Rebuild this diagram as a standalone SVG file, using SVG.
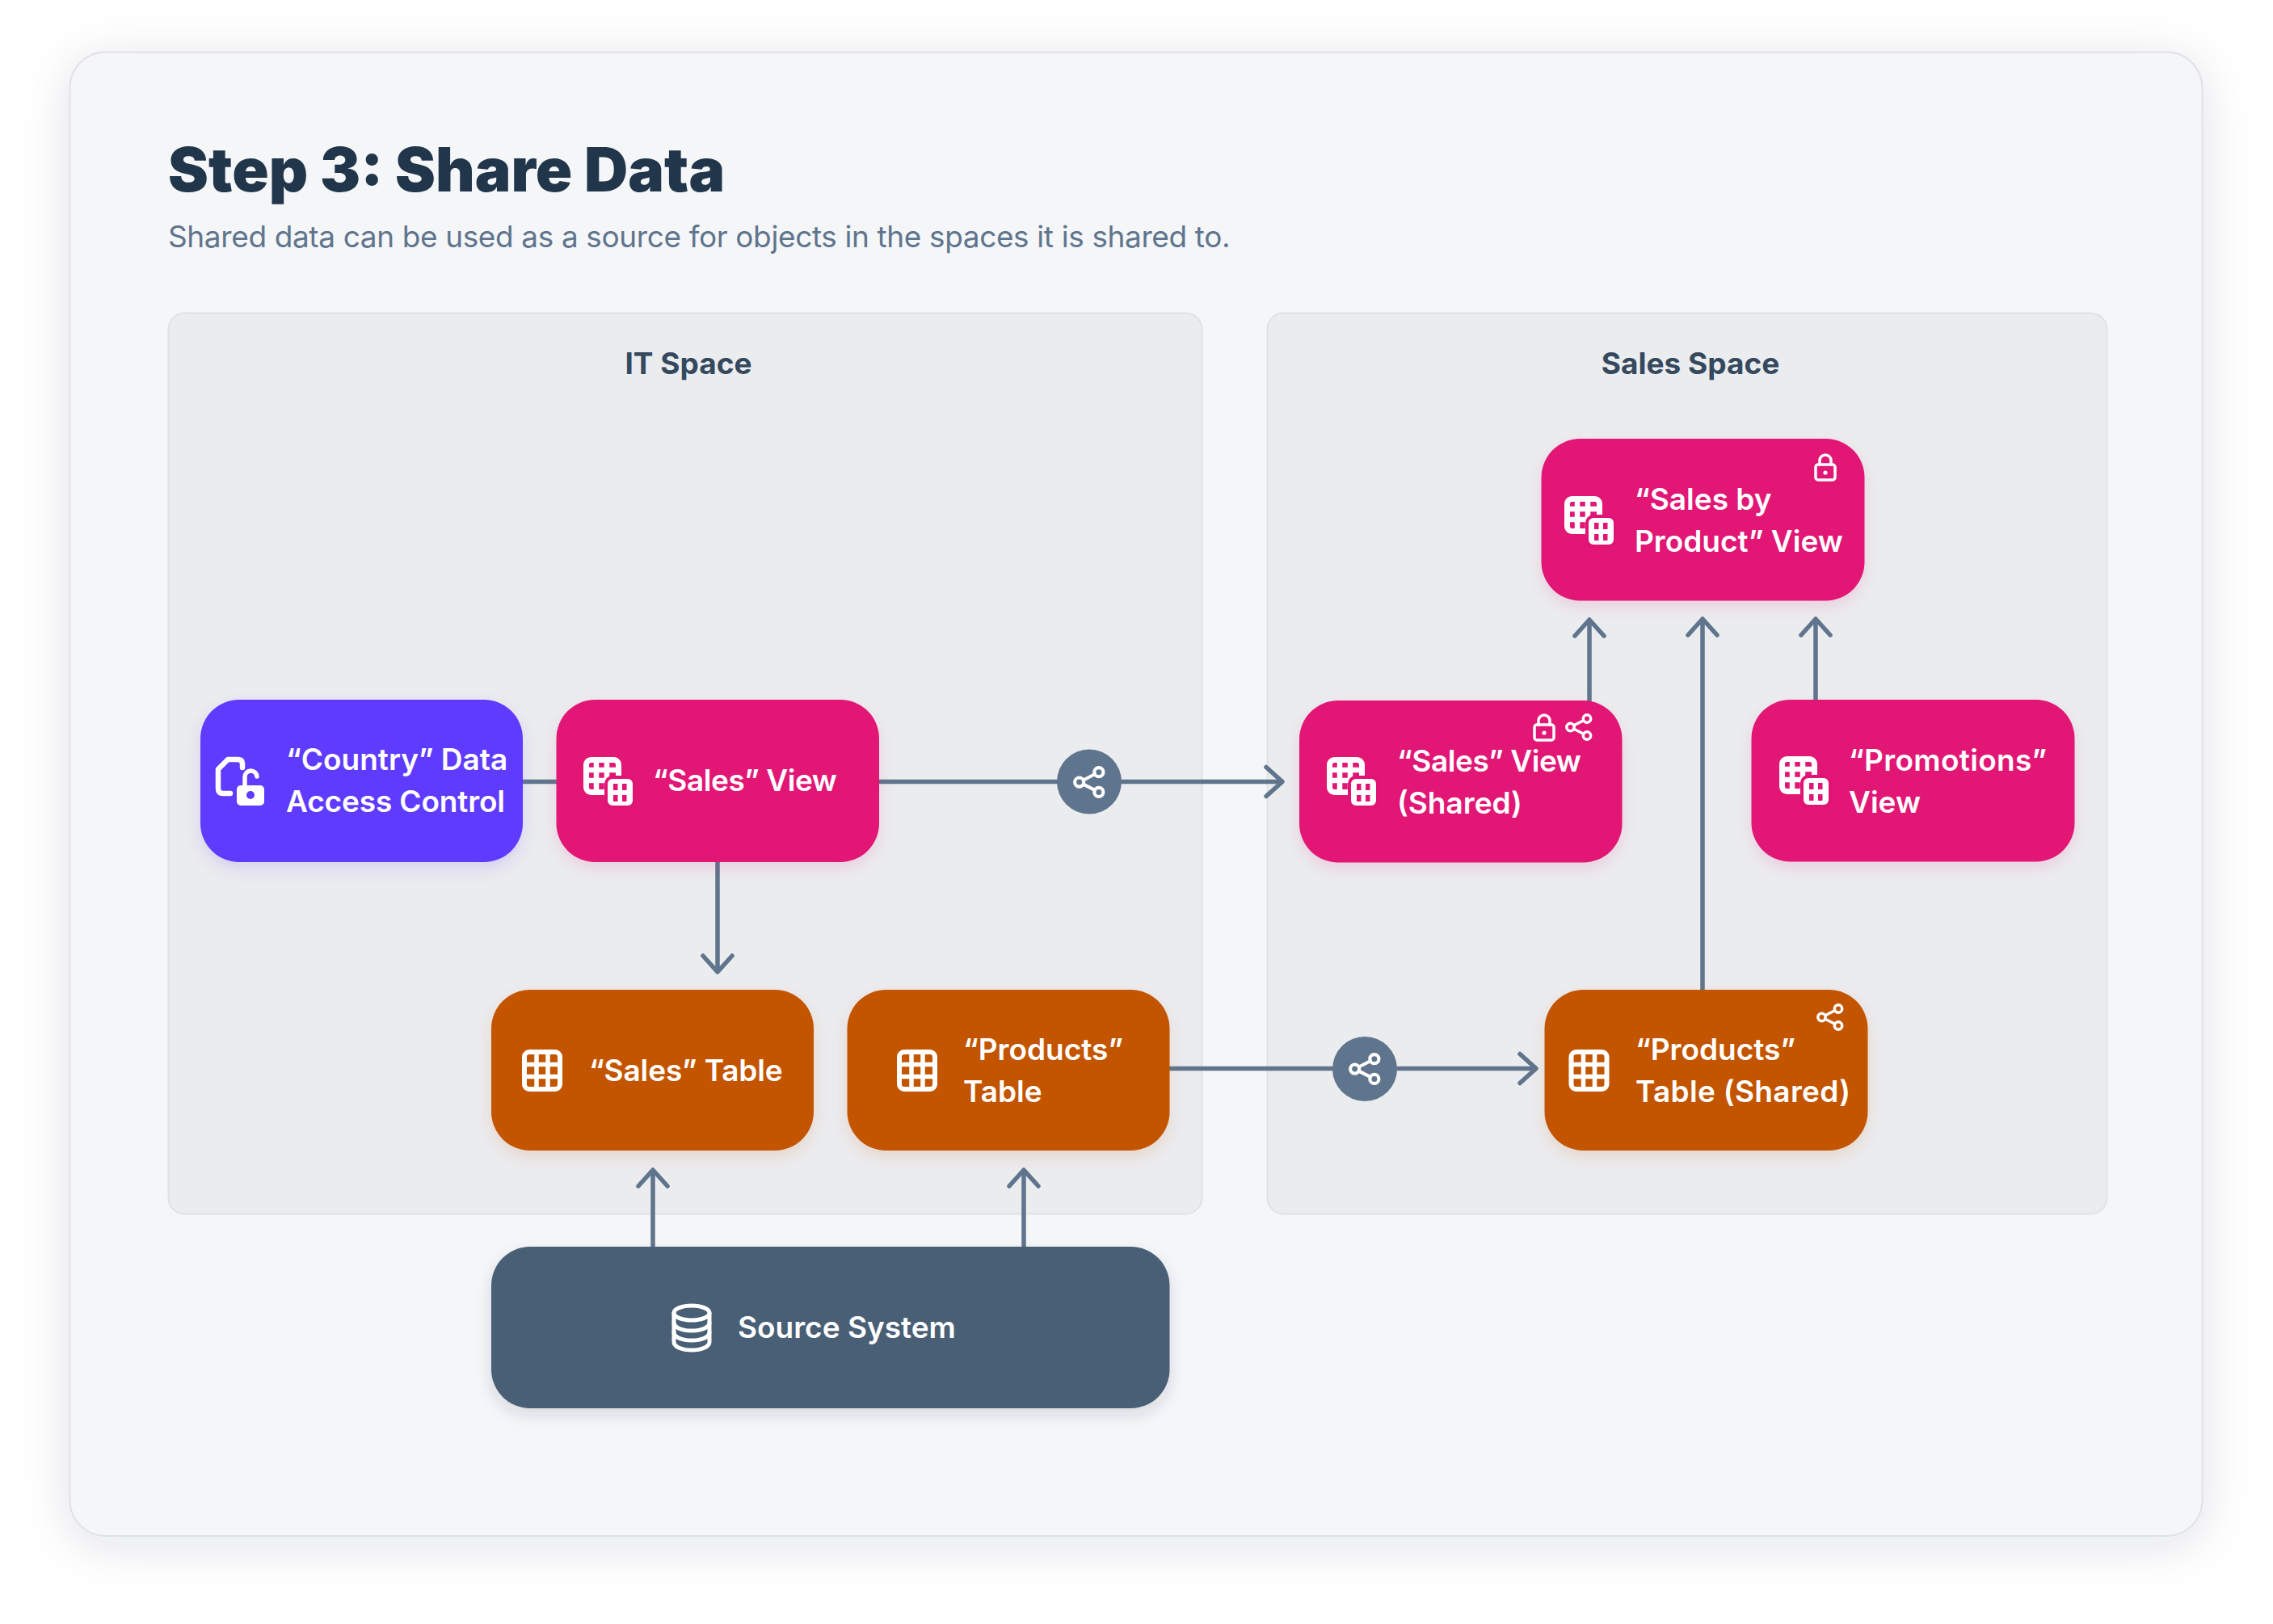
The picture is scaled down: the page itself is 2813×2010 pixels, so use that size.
<svg xmlns="http://www.w3.org/2000/svg" xmlns:xlink="http://www.w3.org/1999/xlink" width="2813" height="2010" viewBox="0 0 2813 2010">
<style>
text{font-family:"Inter","Noto Sans","Liberation Sans",sans-serif}
.t{font-size:37px;font-weight:600;fill:#fff}
.tn{letter-spacing:-.45px}
.tw{letter-spacing:.32px}
.title{font-size:75px;font-weight:900;fill:#22364B}
.sub{font-size:37px;font-weight:400;fill:#5F758D;letter-spacing:-.38px}
.sp{font-size:37px;font-weight:700;fill:#34485E;text-anchor:middle}
.c{fill:none;stroke:#5F758D;stroke-width:5.5}
.ic{fill:none;stroke:#fff;stroke-linecap:round;stroke-linejoin:round}
</style>
<defs>
<filter id="card" x="-10%" y="-10%" width="120%" height="120%"><feDropShadow dx="0" dy="10" stdDeviation="30" flood-color="#22364B" flood-opacity=".12"/></filter>
<filter id="sPink" x="-20%" y="-20%" width="140%" height="150%"><feDropShadow dx="0" dy="8" stdDeviation="9" flood-color="#E11475" flood-opacity=".12"/></filter>
<filter id="sOrange" x="-20%" y="-20%" width="140%" height="150%"><feDropShadow dx="0" dy="8" stdDeviation="9" flood-color="#C35500" flood-opacity=".14"/></filter>
<filter id="sPurple" x="-20%" y="-20%" width="140%" height="150%"><feDropShadow dx="0" dy="8" stdDeviation="9" flood-color="#5F3BFF" flood-opacity=".16"/></filter>
<filter id="sSlate" x="-20%" y="-20%" width="140%" height="150%"><feDropShadow dx="0" dy="8" stdDeviation="9" flood-color="#22364B" flood-opacity=".14"/></filter>
<marker id="arrow" markerUnits="userSpaceOnUse" viewBox="-26 -24 32 48" markerWidth="32" markerHeight="48" refX="0" refY="0" orient="auto">
<path d="M-20,-18 L0,0 L-20,18" fill="none" stroke="#5F758D" stroke-width="5.5" stroke-linecap="round" stroke-linejoin="round"/>
</marker>
<g id="view">
<rect x="3.500" y="3.500" width="40" height="40" rx="6" fill="none" stroke="#fff" stroke-width="7"/>
<path d="M3,16H44M3,29H44M16,3V44M29,3V44" stroke="#fff" stroke-width="6.500" fill="none"/>
<rect x="28" y="25" width="35" height="37" rx="8" fill="#fff" stroke="#E11475" stroke-width="4"/>
<rect x="37" y="33" width="5.500" height="8" fill="#E11475"/><rect x="48" y="33" width="5.500" height="8" fill="#E11475"/>
<rect x="37" y="47" width="5.500" height="8" fill="#E11475"/><rect x="48" y="47" width="5.500" height="8" fill="#E11475"/>
</g>
<g id="table">
<rect x="3" y="3" width="44" height="46" rx="6" fill="none" stroke="#fff" stroke-width="6"/>
<path d="M3,18.500H47M3,33.500H47M18,3V49M32,3V49" stroke="#fff" stroke-width="5.500" fill="none"/>
</g>
<g id="lock" class="ic" stroke-width="3.500">
<rect x="2" y="14" width="24" height="19" rx="3"/>
<path d="M7,14V9a7,7 0 0 1 14,0V14"/>
<circle cx="14" cy="24" r="2.600" fill="#fff" stroke="none"/>
</g>
<g id="share" class="ic" stroke-width="3.500">
<circle cx="6.500" cy="17" r="4.700"/><circle cx="27" cy="6.500" r="4.700"/><circle cx="27" cy="27.500" r="4.700"/>
<path d="M10.800,14.800L22.700,8.700M10.800,19.200L22.700,25.300"/>
</g>
</defs>

<rect width="2813" height="2010" fill="#fff"/>
<rect id="card-bg" x="86.500" y="64.500" width="2639" height="1836.500" rx="44" fill="#F5F6F8" stroke="#DFE1E5" stroke-width="2" filter="url(#card)"/>
<text class="title" x="208" y="237">Step 3: Share Data</text>
<text class="sub" x="208" y="306">Shared data can be used as a source for objects in the spaces it is shared to.</text>

<g id="it-space">
<rect x="208.500" y="387.500" width="1279" height="1115" rx="20" fill="#EBECEE" stroke="#DFE1E5" stroke-width="2"/>
<text class="sp" x="852" y="463">IT Space</text>
</g>
<g id="sales-space">
<rect x="1568.500" y="387.500" width="1039" height="1115" rx="20" fill="#EBECEE" stroke="#DFE1E5" stroke-width="2"/>
<text class="sp" x="2092" y="463">Sales Space</text>
</g>

<g id="connectors">
<path class="c" d="M647,967.500H689"/>
<path class="c" d="M1088,967.500H1587" marker-end="url(#arrow)"/>
<path class="c" d="M888,1067V1203" marker-end="url(#arrow)"/>
<path class="c" d="M1447,1322.500H1901" marker-end="url(#arrow)"/>
<path class="c" d="M808,1543V1448" marker-end="url(#arrow)"/>
<path class="c" d="M1267,1543V1448" marker-end="url(#arrow)"/>
<path class="c" d="M1967,870V767" marker-end="url(#arrow)"/>
<path class="c" d="M2107,1225V766" marker-end="url(#arrow)"/>
<path class="c" d="M2247,867V766" marker-end="url(#arrow)"/>
</g>

<g id="share-badge-1">
<circle cx="1348" cy="967.500" r="40" fill="#5F758D"/>
<use href="#share" transform="translate(1328,948) scale(1.18)"/>
</g>
<g id="share-badge-2">
<circle cx="1689" cy="1323" r="40" fill="#5F758D"/>
<use href="#share" transform="translate(1669,1303) scale(1.18)"/>
</g>

<g id="country-access">
<rect x="248" y="866" width="399" height="201" rx="48" fill="#5F3BFF" filter="url(#sPurple)"/>
<path class="ic" stroke-width="6.500" d="M300,950V945Q300,940 294,940H282L270,952V976Q270,982 276,982H285"/>
<path class="ic" stroke-width="5.500" d="M303,974V962a7.500,7.500 0 0 1 15,-1"/>
<rect x="293" y="972" width="34" height="25" rx="5" fill="#fff"/>
<circle cx="310" cy="984" r="5" fill="#5F3BFF"/>
<text class="t" x="354" y="953">“Country” Data</text>
<text class="t" x="354" y="1005" style="letter-spacing:-.15px">Access Control</text>
</g>
<g id="sales-view">
<rect x="688.500" y="866" width="399.500" height="201" rx="48" fill="#E11475" filter="url(#sPink)"/>
<use href="#view" transform="translate(722,937)"/>
<text class="t tn" x="808" y="979">“Sales” View</text>
</g>
<g id="sales-table">
<rect x="608" y="1225" width="399" height="199" rx="48" fill="#C35500" filter="url(#sOrange)"/>
<use href="#table" transform="translate(646,1299)"/>
<text class="t" x="729" y="1338" style="letter-spacing:-.15px">“Sales” Table</text>
</g>
<g id="products-table">
<rect x="1048.500" y="1225" width="399" height="199" rx="48" fill="#C35500" filter="url(#sOrange)"/>
<use href="#table" transform="translate(1110,1299)"/>
<text class="t" x="1192" y="1312">“Products”</text>
<text class="t" x="1192" y="1364">Table</text>
</g>
<g id="source-system">
<rect x="608" y="1543" width="839.500" height="200" rx="48" fill="#4A5F75" filter="url(#sSlate)"/>
<g class="ic" stroke-width="5">
<ellipse cx="856" cy="1625" rx="22" ry="9"/>
<path d="M834,1625V1661C834,1667 844,1671 856,1671S878,1667 878,1661V1625"/>
<path d="M834,1637C834,1643 844,1647 856,1647S878,1643 878,1637M834,1649C834,1655 844,1659 856,1659S878,1655 878,1649"/>
</g>
<text class="t" x="913" y="1656">Source System</text>
</g>
<g id="sales-by-product">
<rect x="1907.500" y="543" width="400" height="200.500" rx="48" fill="#E11475" filter="url(#sPink)"/>
<use href="#view" transform="translate(1936,614)"/>
<use href="#lock" transform="translate(2245,561)"/>
<text class="t" x="2023" y="631">“Sales by</text>
<text class="t" x="2023" y="683">Product” View</text>
</g>
<g id="sales-view-shared">
<rect x="1608" y="867" width="399.500" height="200.500" rx="48" fill="#E11475" filter="url(#sPink)"/>
<use href="#view" transform="translate(1642,937)"/>
<use href="#lock" transform="translate(1897,883)"/>
<use href="#share" transform="translate(1937,883)"/>
<text class="t tn" x="1729" y="955">“Sales” View</text>
<text class="t" x="1729" y="1007">(Shared)</text>
</g>
<g id="promotions-view">
<rect x="2167.500" y="866" width="400" height="200.500" rx="48" fill="#E11475" filter="url(#sPink)"/>
<use href="#view" transform="translate(2202,936)"/>
<text class="t tw" x="2288" y="954">“Promotions”</text>
<text class="t" x="2288" y="1006">View</text>
</g>
<g id="products-table-shared">
<rect x="1911.500" y="1225" width="400" height="199" rx="48" fill="#C35500" filter="url(#sOrange)"/>
<use href="#table" transform="translate(1941.500,1299)"/>
<use href="#share" transform="translate(2248,1242)"/>
<text class="t" x="2024" y="1312">“Products”</text>
<text class="t tw" x="2024" y="1364">Table (Shared)</text>
</g>
</svg>
